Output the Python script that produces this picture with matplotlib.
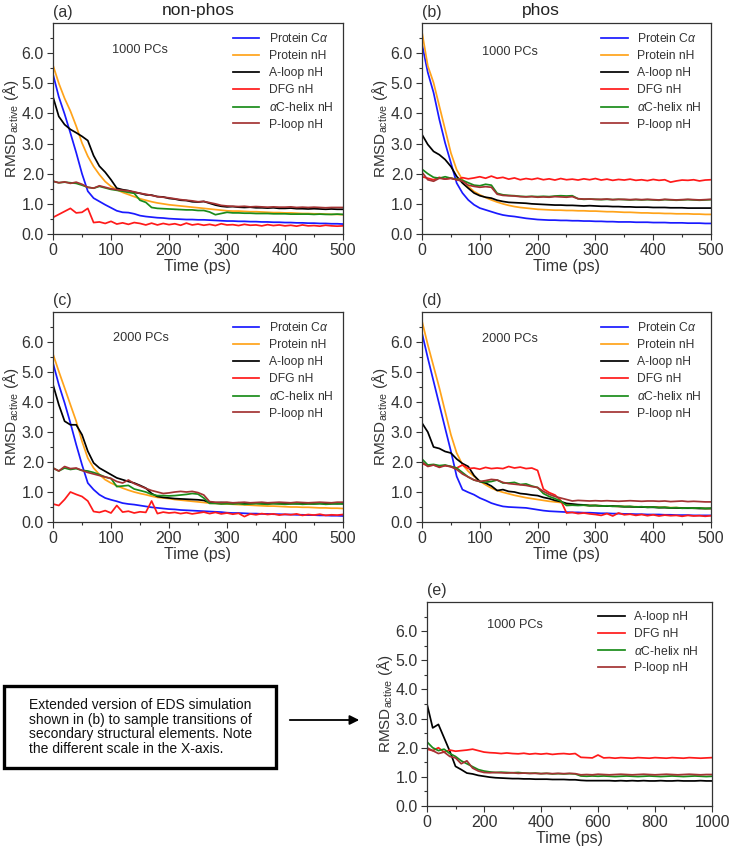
import numpy as np
import matplotlib.pyplot as plt
from matplotlib.patches import Rectangle

plt.rcParams['font.family'] = ['Liberation Sans', 'DejaVu Sans']
plt.rcParams['mathtext.fontset'] = 'custom'
plt.rcParams['mathtext.rm'] = 'Liberation Sans'
plt.rcParams['mathtext.it'] = 'Liberation Sans:italic'

GREY = '#333333'
W, H = 729, 851

t_500 = np.arange(0, 501, 10)
t_1000 = np.arange(0, 1001, 20)

names = ["Protein C$\\alpha$", "Protein nH", "A-loop nH", "DFG nH",
         "$\\alpha$C-helix nH", "P-loop nH"]
colors = ["#1a1aff", "#ffa31a", "#000000", "#ff1a1a", "#1a8c1a", "#a33333"]

# (a) non-phos, 1000 PCs
blue_a = [5.30, 4.55, 3.98, 3.35, 2.70, 2.00, 1.42, 1.19, 1.08, 0.97, 0.87, 0.77, 0.72, 0.71, 0.67, 0.61, 0.58,
          0.56, 0.54, 0.53, 0.51, 0.50, 0.49, 0.48, 0.48, 0.47, 0.47, 0.46, 0.45, 0.44, 0.43, 0.43, 0.42, 0.42,
          0.41, 0.41, 0.40, 0.40, 0.39, 0.39, 0.38, 0.38, 0.37, 0.37, 0.36, 0.36, 0.35, 0.35, 0.34, 0.34, 0.33]
orange_a = [5.60, 5.00, 4.50, 4.08, 3.58, 3.02, 2.58, 2.24, 1.97, 1.74, 1.58, 1.47, 1.38, 1.31, 1.24, 1.17, 1.12,
            1.07, 1.03, 1.00, 0.97, 0.95, 0.93, 0.91, 0.89, 0.87, 0.85, 0.83, 0.81, 0.79, 0.77, 0.76, 0.76, 0.75,
            0.74, 0.74, 0.73, 0.72, 0.71, 0.71, 0.70, 0.70, 0.69, 0.68, 0.68, 0.67, 0.67, 0.66, 0.65, 0.65, 0.64]
black_a = [4.55, 3.90, 3.63, 3.47, 3.36, 3.24, 3.10, 2.60, 2.25, 2.05, 1.80, 1.52, 1.47, 1.44, 1.38, 1.35, 1.30,
           1.29, 1.24, 1.23, 1.18, 1.16, 1.12, 1.11, 1.07, 1.06, 1.08, 1.02, 0.96, 0.92, 0.90, 0.91, 0.89, 0.88,
           0.89, 0.87, 0.87, 0.86, 0.87, 0.85, 0.85, 0.86, 0.84, 0.84, 0.83, 0.84, 0.83, 0.82, 0.83, 0.82, 0.82]
red_a = [0.55, 0.65, 0.75, 0.85, 0.70, 0.72, 0.85, 0.38, 0.40, 0.35, 0.42, 0.33, 0.37, 0.32, 0.38, 0.35, 0.30,
         0.36, 0.30, 0.35, 0.31, 0.34, 0.29, 0.36, 0.30, 0.33, 0.29, 0.32, 0.28, 0.34, 0.30, 0.31, 0.28, 0.32,
         0.29, 0.30, 0.27, 0.31, 0.28, 0.30, 0.27, 0.29, 0.26, 0.30, 0.27, 0.28, 0.26, 0.29, 0.27, 0.26, 0.27]
green_a = [1.75, 1.70, 1.72, 1.70, 1.68, 1.62, 1.55, 1.52, 1.58, 1.53, 1.48, 1.45, 1.42, 1.38, 1.35, 1.12, 1.05,
           0.88, 0.85, 0.84, 0.83, 0.82, 0.81, 0.80, 0.80, 0.78, 0.78, 0.73, 0.64, 0.68, 0.72, 0.70, 0.70, 0.69,
           0.69, 0.68, 0.68, 0.68, 0.67, 0.67, 0.67, 0.66, 0.66, 0.66, 0.66, 0.65, 0.66, 0.65, 0.65, 0.66, 0.65]
brown_a = [1.75, 1.70, 1.73, 1.68, 1.72, 1.65, 1.55, 1.52, 1.60, 1.55, 1.50, 1.47, 1.45, 1.43, 1.40, 1.35, 1.32,
           1.28, 1.24, 1.22, 1.20, 1.17, 1.14, 1.12, 1.10, 1.07, 1.08, 1.04, 1.00, 0.95, 0.93, 0.92, 0.91, 0.92,
           0.90, 0.91, 0.90, 0.89, 0.90, 0.89, 0.89, 0.90, 0.88, 0.89, 0.88, 0.89, 0.88, 0.87, 0.88, 0.88, 0.88]

# (b) phos, 1000 PCs
blue_b = [6.30, 5.36, 4.69, 3.80, 3.02, 2.36, 1.69, 1.36, 1.13, 0.97, 0.86, 0.80, 0.74, 0.68, 0.63, 0.60, 0.58,
          0.55, 0.52, 0.50, 0.48, 0.47, 0.46, 0.46, 0.45, 0.45, 0.44, 0.44, 0.43, 0.43, 0.42, 0.42, 0.41, 0.41,
          0.40, 0.40, 0.40, 0.39, 0.39, 0.39, 0.38, 0.38, 0.38, 0.37, 0.37, 0.37, 0.36, 0.36, 0.36, 0.35, 0.35]
orange_b = [6.70, 5.58, 5.02, 4.24, 3.47, 2.69, 2.13, 1.80, 1.58, 1.41, 1.30, 1.21, 1.13, 1.06, 1.00, 0.95, 0.91,
            0.88, 0.86, 0.84, 0.82, 0.81, 0.80, 0.79, 0.79, 0.78, 0.78, 0.77, 0.77, 0.76, 0.76, 0.75, 0.74, 0.74,
            0.73, 0.72, 0.72, 0.71, 0.70, 0.70, 0.69, 0.69, 0.68, 0.68, 0.67, 0.67, 0.67, 0.66, 0.66, 0.65, 0.65]
black_b = [3.30, 2.97, 2.74, 2.63, 2.47, 2.24, 1.91, 1.69, 1.52, 1.36, 1.27, 1.22, 1.19, 1.12, 1.08, 1.05, 1.04,
           1.03, 1.02, 1.00, 0.99, 0.98, 0.97, 0.96, 0.96, 0.95, 0.95, 0.94, 0.93, 0.94, 0.93, 0.92, 0.92, 0.91,
           0.91, 0.90, 0.90, 0.89, 0.89, 0.89, 0.88, 0.88, 0.88, 0.87, 0.87, 0.87, 0.86, 0.86, 0.86, 0.86, 0.86]
red_b = [1.90, 1.85, 1.80, 1.88, 1.82, 1.85, 1.80, 1.87, 1.83, 1.86, 1.90, 1.85, 1.92, 1.85, 1.88, 1.82, 1.86,
         1.80, 1.84, 1.81, 1.85, 1.80, 1.83, 1.79, 1.84, 1.80, 1.82, 1.79, 1.83, 1.80, 1.84, 1.79, 1.82, 1.78,
         1.81, 1.79, 1.82, 1.78, 1.80, 1.77, 1.81, 1.78, 1.80, 1.72, 1.76, 1.79, 1.78, 1.80, 1.76, 1.79, 1.80]
green_b = [2.15, 2.00, 1.88, 1.85, 1.90, 1.85, 1.82, 1.78, 1.70, 1.62, 1.60, 1.65, 1.62, 1.35, 1.30, 1.28, 1.27,
           1.25, 1.24, 1.25, 1.24, 1.25, 1.24, 1.26, 1.27, 1.26, 1.27, 1.17, 1.15, 1.16, 1.15, 1.14, 1.15, 1.14,
           1.15, 1.14, 1.13, 1.14, 1.13, 1.14, 1.13, 1.12, 1.14, 1.13, 1.12, 1.13, 1.14, 1.13, 1.12, 1.13, 1.14]
brown_b = [2.05, 1.80, 1.75, 1.85, 1.82, 1.85, 1.80, 1.75, 1.62, 1.58, 1.55, 1.57, 1.55, 1.32, 1.28, 1.27, 1.26,
           1.24, 1.23, 1.24, 1.22, 1.23, 1.22, 1.24, 1.23, 1.22, 1.24, 1.17, 1.16, 1.16, 1.15, 1.15, 1.16, 1.14,
           1.15, 1.15, 1.14, 1.15, 1.14, 1.15, 1.14, 1.13, 1.15, 1.14, 1.13, 1.14, 1.15, 1.14, 1.13, 1.14, 1.15]

# (c) non-phos, 2000 PCs
blue_c = [5.30, 4.58, 3.97, 3.30, 2.58, 1.91, 1.30, 1.08, 0.91, 0.80, 0.74, 0.69, 0.63, 0.60, 0.58, 0.55, 0.52,
          0.49, 0.47, 0.45, 0.43, 0.42, 0.40, 0.39, 0.38, 0.37, 0.36, 0.35, 0.34, 0.33, 0.31, 0.30, 0.30, 0.29,
          0.28, 0.28, 0.27, 0.27, 0.26, 0.26, 0.25, 0.25, 0.24, 0.24, 0.23, 0.23, 0.22, 0.22, 0.21, 0.21, 0.20]
orange_c = [5.60, 5.02, 4.47, 3.91, 3.36, 2.69, 2.13, 1.80, 1.58, 1.41, 1.30, 1.21, 1.13, 1.06, 1.00, 0.95, 0.91,
            0.86, 0.82, 0.80, 0.78, 0.75, 0.73, 0.71, 0.69, 0.67, 0.65, 0.63, 0.62, 0.61, 0.60, 0.59, 0.58, 0.57,
            0.56, 0.55, 0.54, 0.53, 0.53, 0.52, 0.51, 0.50, 0.50, 0.49, 0.49, 0.48, 0.47, 0.47, 0.46, 0.46, 0.45]
black_c = [4.58, 3.91, 3.36, 3.24, 3.24, 2.91, 2.36, 1.97, 1.80, 1.69, 1.58, 1.47, 1.41, 1.35, 1.30, 1.22, 1.13,
           0.95, 0.85, 0.82, 0.80, 0.78, 0.77, 0.76, 0.75, 0.74, 0.72, 0.65, 0.64, 0.65, 0.64, 0.63, 0.64, 0.63,
           0.62, 0.63, 0.62, 0.63, 0.62, 0.62, 0.63, 0.62, 0.61, 0.62, 0.62, 0.61, 0.62, 0.61, 0.62, 0.61, 0.62]
red_c = [0.60, 0.55, 0.75, 1.00, 0.92, 0.85, 0.70, 0.35, 0.32, 0.38, 0.30, 0.55, 0.33, 0.36, 0.30, 0.34, 0.32,
         0.70, 0.28, 0.33, 0.30, 0.32, 0.28, 0.31, 0.27, 0.30, 0.33, 0.28, 0.32, 0.27, 0.30, 0.26, 0.29, 0.18,
         0.27, 0.24, 0.28, 0.25, 0.27, 0.23, 0.26, 0.24, 0.27, 0.22, 0.25, 0.23, 0.26, 0.22, 0.24, 0.23, 0.25]
green_c = [1.80, 1.70, 1.80, 1.75, 1.78, 1.72, 1.70, 1.65, 1.58, 1.50, 1.45, 1.18, 1.20, 1.22, 1.10, 1.05, 1.00,
           0.92, 0.88, 0.88, 0.87, 0.88, 0.90, 0.92, 0.95, 0.93, 0.80, 0.62, 0.62, 0.60, 0.61, 0.60, 0.61, 0.59,
           0.60, 0.61, 0.60, 0.59, 0.61, 0.60, 0.59, 0.60, 0.61, 0.59, 0.60, 0.60, 0.61, 0.59, 0.60, 0.61, 0.60]
brown_c = [1.80, 1.70, 1.85, 1.78, 1.80, 1.72, 1.65, 1.60, 1.55, 1.50, 1.45, 1.35, 1.30, 1.40, 1.28, 1.20, 1.12,
           1.05, 1.00, 0.95, 0.97, 1.00, 1.02, 1.00, 1.02, 0.98, 0.90, 0.68, 0.66, 0.65, 0.66, 0.64, 0.65, 0.66,
           0.64, 0.65, 0.66, 0.64, 0.65, 0.66, 0.65, 0.64, 0.66, 0.65, 0.64, 0.65, 0.66, 0.65, 0.64, 0.66, 0.66]

# (d) phos, 2000 PCs
blue_d = [6.30, 5.47, 4.69, 3.91, 3.13, 2.36, 1.52, 1.08, 0.99, 0.91, 0.80, 0.72, 0.63, 0.57, 0.52, 0.50, 0.49,
          0.48, 0.47, 0.44, 0.41, 0.38, 0.36, 0.35, 0.34, 0.33, 0.32, 0.32, 0.31, 0.31, 0.30, 0.29, 0.29, 0.28,
          0.28, 0.27, 0.27, 0.26, 0.26, 0.25, 0.25, 0.25, 0.24, 0.24, 0.23, 0.23, 0.23, 0.22, 0.22, 0.22, 0.22]
orange_d = [6.70, 5.91, 5.19, 4.47, 3.69, 2.91, 2.30, 1.91, 1.69, 1.52, 1.36, 1.24, 1.13, 1.05, 0.99, 0.94, 0.89,
            0.85, 0.81, 0.78, 0.75, 0.72, 0.69, 0.67, 0.65, 0.60, 0.58, 0.57, 0.56, 0.55, 0.55, 0.54, 0.53, 0.53,
            0.52, 0.52, 0.51, 0.51, 0.50, 0.50, 0.50, 0.49, 0.49, 0.48, 0.48, 0.47, 0.47, 0.46, 0.46, 0.45, 0.45]
black_d = [3.30, 3.00, 2.50, 2.45, 2.35, 2.30, 2.10, 1.95, 1.85, 1.55, 1.35, 1.30, 1.20, 1.05, 1.08, 1.02, 1.00,
           0.95, 0.93, 0.90, 0.88, 0.82, 0.78, 0.72, 0.68, 0.62, 0.60, 0.58, 0.57, 0.55, 0.55, 0.54, 0.53, 0.53,
           0.52, 0.51, 0.51, 0.50, 0.50, 0.49, 0.49, 0.48, 0.48, 0.47, 0.47, 0.46, 0.46, 0.46, 0.45, 0.45, 0.45]
red_d = [1.95, 1.88, 1.90, 1.85, 1.88, 1.85, 1.80, 1.90, 1.78, 1.80, 1.76, 1.82, 1.78, 1.80, 1.78, 1.85, 1.80,
         1.83, 1.78, 1.80, 1.72, 1.10, 0.98, 0.90, 0.72, 0.30, 0.32, 0.28, 0.30, 0.27, 0.25, 0.22, 0.28, 0.20,
         0.30, 0.24, 0.26, 0.22, 0.25, 0.21, 0.24, 0.20, 0.23, 0.21, 0.22, 0.19, 0.22, 0.20, 0.21, 0.19, 0.21]
green_d = [2.10, 1.90, 1.92, 1.88, 1.90, 1.85, 1.80, 1.65, 1.50, 1.40, 1.35, 1.33, 1.35, 1.40, 1.30, 1.30, 1.32,
           1.25, 1.27, 1.20, 1.15, 0.95, 0.85, 0.78, 0.70, 0.55, 0.56, 0.55, 0.56, 0.54, 0.55, 0.53, 0.54, 0.52,
           0.53, 0.51, 0.52, 0.50, 0.51, 0.49, 0.50, 0.48, 0.49, 0.47, 0.48, 0.46, 0.47, 0.46, 0.47, 0.45, 0.46]
brown_d = [2.00, 1.85, 1.90, 1.82, 1.88, 1.84, 1.75, 1.60, 1.50, 1.40, 1.35, 1.38, 1.42, 1.40, 1.32, 1.28, 1.26,
           1.24, 1.22, 1.18, 1.15, 1.02, 0.92, 0.85, 0.80, 0.75, 0.70, 0.72, 0.71, 0.70, 0.71, 0.70, 0.71, 0.70,
           0.69, 0.70, 0.71, 0.70, 0.69, 0.70, 0.70, 0.69, 0.70, 0.68, 0.69, 0.70, 0.68, 0.69, 0.68, 0.67, 0.67]

# (e) phos, extended 1000 ps run
black_e = [3.50, 2.68, 2.80, 2.34, 1.88, 1.36, 1.25, 1.13, 1.10, 1.05, 1.02, 0.99, 0.97, 0.96, 0.95, 0.94, 0.94,
           0.93, 0.93, 0.92, 0.92, 0.92, 0.91, 0.91, 0.91, 0.90, 0.90, 0.88, 0.87, 0.87, 0.87, 0.87, 0.87, 0.86,
           0.87, 0.86, 0.87, 0.86, 0.87, 0.86, 0.86, 0.87, 0.86, 0.86, 0.87, 0.86, 0.86, 0.86, 0.87, 0.86, 0.86]
red_e = [1.95, 1.90, 2.00, 1.85, 1.92, 1.88, 1.90, 1.92, 1.95, 1.90, 1.85, 1.83, 1.82, 1.80, 1.82, 1.80, 1.79,
         1.81, 1.78, 1.80, 1.78, 1.80, 1.77, 1.79, 1.80, 1.78, 1.80, 1.67, 1.66, 1.65, 1.75, 1.65, 1.66, 1.64,
         1.66, 1.65, 1.64, 1.66, 1.65, 1.64, 1.66, 1.65, 1.64, 1.66, 1.65, 1.64, 1.66, 1.65, 1.64, 1.65, 1.66]
green_e = [2.20, 2.00, 1.90, 1.95, 1.80, 1.70, 1.55, 1.45, 1.35, 1.25, 1.20, 1.17, 1.15, 1.16, 1.15, 1.14, 1.15,
           1.13, 1.12, 1.13, 1.11, 1.12, 1.10, 1.11, 1.10, 1.11, 1.10, 1.03, 1.02, 1.03, 1.02, 1.03, 1.02, 1.01,
           1.02, 1.03, 1.02, 1.01, 1.02, 1.03, 1.02, 1.01, 1.02, 1.03, 1.02, 1.01, 1.02, 1.03, 1.02, 1.01, 1.02]
brown_e = [2.00, 1.90, 1.80, 1.85, 1.70, 1.65, 1.45, 1.55, 1.30, 1.20, 1.15, 1.14, 1.15, 1.14, 1.13, 1.14, 1.12,
           1.13, 1.12, 1.12, 1.11, 1.12, 1.11, 1.12, 1.11, 1.12, 1.11, 1.07, 1.08, 1.07, 1.09, 1.08, 1.07, 1.08,
           1.09, 1.08, 1.07, 1.08, 1.09, 1.08, 1.07, 1.08, 1.09, 1.08, 1.07, 1.08, 1.09, 1.08, 1.07, 1.08, 1.08]


def px_axes(fig, left, top, right, bottom):
    return fig.add_axes([left / W, 1 - bottom / H, (right - left) / W, (bottom - top) / H])


def panel(fig, box, t, series, idx, tag, pcs, xmax, legx, legy, pcx, pcy):
    ax = px_axes(fig, *box)
    for y, i in zip(series, idx):
        ax.plot(t, y, color=colors[i], lw=1.25, label=names[i])
    ax.set_xlim(0, xmax)
    ax.set_ylim(0, 7.0)
    ax.set_yticks(np.arange(0, 6.1, 1.0))
    ax.set_yticks(np.arange(0, 7.0, 0.5), minor=True)
    ax.set_xticks(np.arange(0, xmax + 1, xmax / 5))
    ax.set_xticks(np.arange(0, xmax + 1, xmax / 10), minor=True)
    ax.set_yticklabels([f"{v:.1f}" for v in np.arange(0, 6.1, 1.0)])
    ax.tick_params(which='both', direction='out', colors=GREY, labelsize=11.5, width=0.8)
    ax.tick_params(which='major', length=4, pad=2.5)
    ax.tick_params(which='minor', length=2.5)
    for s in ax.spines.values():
        s.set_color(GREY)
        s.set_linewidth(0.9)
    ax.set_xlabel("Time (ps)", fontsize=11.5, color=GREY, labelpad=1)
    ax.set_ylabel("RMSD$_{\\mathrm{active}}$ (Å)", fontsize=11, color=GREY, labelpad=0.5)
    ax.text(pcx, pcy, pcs, transform=ax.transAxes, ha='center', va='center', fontsize=9.2, color=GREY)
    ax.legend(loc='upper left', bbox_to_anchor=(legx, legy), frameon=False, fontsize=8.7,
              borderpad=0, borderaxespad=0, handlelength=2.2, handletextpad=0.8, labelspacing=0.4,
              labelcolor=GREY)
    fig.text(box[0] / W, 1 - (box[1] - 11) / H, tag, fontsize=11.5, color=GREY, ha='left', va='center')
    return ax


fig = plt.figure(figsize=(W / 100, H / 100), dpi=100)

panel(fig, (53, 23, 343, 234), t_500, [blue_a, orange_a, black_a, red_a, green_a, brown_a],
      range(6), "(a)", "1000 PCs", 500, 0.62, 0.955, 0.30, 0.872)
panel(fig, (422, 23, 711, 234), t_500, [blue_b, orange_b, black_b, red_b, green_b, brown_b],
      range(6), "(b)", "1000 PCs", 500, 0.62, 0.955, 0.304, 0.862)
panel(fig, (53, 312, 343, 522), t_500, [blue_c, orange_c, black_c, red_c, green_c, brown_c],
      range(6), "(c)", "2000 PCs", 500, 0.62, 0.955, 0.303, 0.876)
panel(fig, (422, 312, 711, 522), t_500, [blue_d, orange_d, black_d, red_d, green_d, brown_d],
      range(6), "(d)", "2000 PCs", 500, 0.62, 0.955, 0.304, 0.871)
panel(fig, (427, 602, 712, 806), t_1000, [black_e, red_e, green_e, brown_e],
      [2, 3, 4, 5], "(e)", "1000 PCs", 1000, 0.60, 0.956, 0.31, 0.887)

fig.text(198 / W, 1 - 10 / H, "non-phos", fontsize=12.5, ha='center', va='center', color='#222222')
fig.text(541 / W, 1 - 10 / H, "phos", fontsize=12.5, ha='center', va='center', color='#222222')

# note box and arrow pointing at panel (e)
ov = fig.add_axes([0, 0, 1, 1], zorder=-1)
ov.set_xlim(0, W)
ov.set_ylim(H, 0)
ov.axis('off')
ov.add_patch(Rectangle((4, 686), 272, 82, fill=False, lw=2.4, ec='black'))
ov.text(29, 727, "Extended version of EDS simulation\nshown in (b) to sample transitions of\n"
        "secondary structural elements. Note\nthe different scale in the X-axis.",
        fontsize=10, ha='left', va='center', linespacing=1.08, color='#111111')
ov.annotate("", xy=(362, 720), xytext=(287, 720),
            arrowprops=dict(arrowstyle='-|>', color='black', lw=1.3, mutation_scale=14))

fig.savefig("out.png", dpi=100)
